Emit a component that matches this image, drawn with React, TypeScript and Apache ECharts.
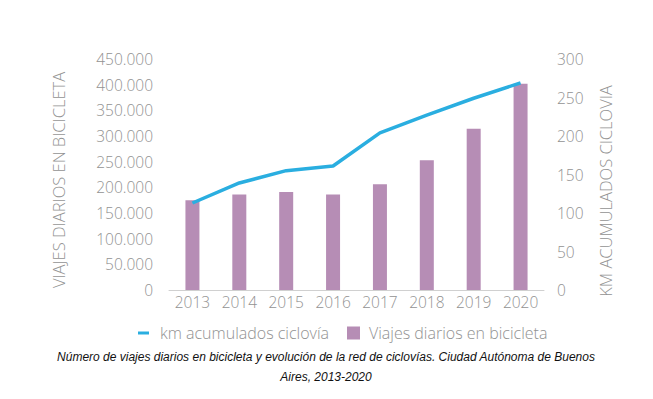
import React, { useEffect, useRef } from "react";
import * as echarts from "echarts";

const years = ["2013", "2014", "2015", "2016", "2017", "2018", "2019", "2020"];
const viajesDiarios = [175000, 186000, 191000, 186000, 206000, 253000, 314000, 402000];
const kmCiclovia = [113, 139, 155, 161, 204, 227, 249, 269];
const leftTicks = [0, 50000, 100000, 150000, 200000, 250000, 300000, 350000, 400000, 450000];
const rightTicks = [0, 50, 100, 150, 200, 250, 300];

const FONT = "'Open Sans', Lato, sans-serif";
const GREY = "#929292";
const BAR = "#b68db5";
const LINE = "#2aaee0";

function fmt(v: number) {
  return String(v).replace(/\B(?=(\d{3})+(?!\d))/g, ".");
}

export default function App() {
  const ref = useRef<HTMLDivElement>(null);
  useEffect(() => {
    const chart = echarts.init(ref.current!, null, { renderer: "svg" });
    chart.setOption({
      animation: false,
      backgroundColor: "#ffffff",
      grid: { left: 169, right: 109, top: 59, bottom: 109 },
      xAxis: {
        type: "category",
        data: years,
        axisLine: { show: true, lineStyle: { color: "#d0d0d0", width: 1 } },
        axisTick: { show: false },
        axisLabel: { color: GREY, fontFamily: FONT, fontSize: 15.5, fontWeight: 300, margin: 4 },
      },
      yAxis: [
        {
          type: "value",
          min: leftTicks[0],
          max: leftTicks[leftTicks.length - 1],
          interval: 50000,
          splitLine: { show: false },
          axisLine: { show: false },
          axisTick: { show: false },
          axisLabel: { color: GREY, fontFamily: FONT, fontSize: 15.5, fontWeight: 300, margin: 16, formatter: (v: number) => fmt(v) },
        },
        {
          type: "value",
          min: rightTicks[0],
          max: rightTicks[rightTicks.length - 1],
          interval: 50,
          splitLine: { show: false },
          axisLine: { show: false },
          axisTick: { show: false },
          axisLabel: { color: GREY, fontFamily: FONT, fontSize: 15.5, fontWeight: 300, margin: 13 },
        },
      ],
      legend: [
        {
          data: [{ name: "km acumulados ciclovía", icon: "rect" }],
          left: 133,
          top: 320,
          itemWidth: 11,
          itemHeight: 3,
          itemGap: 8,
          textStyle: { color: GREY, fontFamily: FONT, fontSize: 16, fontWeight: 300, padding: [0, 0, 0, 6] },
          selectedMode: false,
        },
        {
          data: [{ name: "Viajes diarios en bicicleta", icon: "rect" }],
          left: 342,
          top: 320,
          itemWidth: 13,
          itemHeight: 13,
          itemGap: 8,
          textStyle: { color: GREY, fontFamily: FONT, fontSize: 16, fontWeight: 300, padding: [0, 0, 0, 4] },
          selectedMode: false,
        },
      ],
      series: [
        {
          name: "Viajes diarios en bicicleta",
          type: "bar",
          yAxisIndex: 0,
          data: viajesDiarios,
          barWidth: 14,
          itemStyle: { color: BAR },
          z: 1,
        },
        {
          name: "km acumulados ciclovía",
          type: "line",
          yAxisIndex: 1,
          data: kmCiclovia,
          symbol: "none",
          lineStyle: { color: LINE, width: 3.5 },
          itemStyle: { color: LINE },
          z: 3,
        },
      ],
      graphic: [
        {
          type: "text",
          x: 58,
          y: 180,
          rotation: Math.PI / 2,
          style: {
            text: "VIAJES DIARIOS EN BICICLETA",
            fill: GREY,
            font: `300 16.5px ${FONT}`,
            textAlign: "center",
            textVerticalAlign: "middle",
          },
        },
        {
          type: "text",
          x: 605,
          y: 191,
          rotation: Math.PI / 2,
          style: {
            text: "KM ACUMULADOS CICLOVIA",
            fill: GREY,
            font: `300 16.5px ${FONT}`,
            textAlign: "center",
            textVerticalAlign: "middle",
          },
        },
        {
          type: "text",
          x: 326,
          y: 357,
          style: {
            text: "Número de viajes diarios en bicicleta y evolución de la red de ciclovías. Ciudad Autónoma de Buenos",
            fill: "#111111",
            font: "italic 12px 'Liberation Sans', Arial, sans-serif",
            textAlign: "center",
            textVerticalAlign: "middle",
          },
        },
        {
          type: "text",
          x: 326,
          y: 377,
          style: {
            text: "Aires, 2013-2020",
            fill: "#111111",
            font: "italic 12px 'Liberation Sans', Arial, sans-serif",
            textAlign: "center",
            textVerticalAlign: "middle",
          },
        },
      ],
    });
    return () => chart.dispose();
  }, []);
  return <div ref={ref} style={{ width: 653, height: 399, position: "absolute", left: 0, top: 0 }} />;
}
